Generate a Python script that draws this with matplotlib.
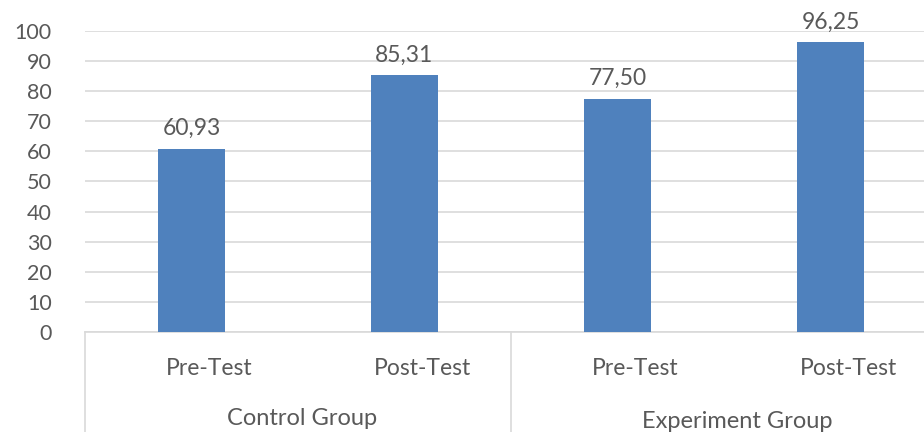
import matplotlib
matplotlib.use("Agg")
import matplotlib.pyplot as plt

groups = ["Control Group", "Experiment Group"]
tests = ["Pre-Test", "Post-Test"]
values = [60.93, 85.31, 77.50, 96.25]
yticks = [0, 10, 20, 30, 40, 50, 60, 70, 80, 90, 100]

plt.rcParams['font.family'] = ['Lato', 'DejaVu Sans']
grey = '#595959'
gridc = '#D9D9D9'

W, H = 924, 432
fig = plt.figure(figsize=(W/100, H/100), dpi=100)
# axes from x=85 to 937 (extends past right edge), y from 332 (0) to 31 (100)
x0, x1 = 85, 937
y0, y1 = 332, 31
ax = fig.add_axes([x0/W, 1 - y0/H, (x1-x0)/W, (y0-y1)/H])
ax.set_xlim(0, 4)
ax.set_ylim(0, 100)

xs = [0.5, 1.5, 2.5, 3.5]
ax.bar(xs, values, width=0.315, color='#4F81BD', zorder=3)
for x, v in zip(xs, values):
    ax.text(x, v + 4.6, f"{v:.2f}".replace('.', ','), ha='center', va='baseline',
            fontsize=16.5, color=grey)

ax.set_yticks(yticks)
ax.set_yticklabels([str(t) for t in yticks], fontsize=15.5, color=grey)
ax.tick_params(axis='y', length=0, pad=24)
ax.yaxis.grid(True, color=gridc, linewidth=1.2, zorder=0)
ax.set_xticks([])
for s in ['top', 'right', 'left']:
    ax.spines[s].set_visible(False)
ax.spines['bottom'].set_color(gridc)
ax.spines['bottom'].set_linewidth(1.2)

def fy(py):
    return (y0 - py) / (y0 - y1)

# category labels
trans = ax.get_xaxis_transform()
for i, x in enumerate(xs):
    ax.text(x + 0.085, fy(375), tests[i % 2], transform=trans,
            ha='center', va='baseline', fontsize=16.5, color=grey, clip_on=False)
group_x = [1.02, 3.06]
group_base = [425, 428]
for g, name in enumerate(groups):
    ax.text(group_x[g], fy(group_base[g]), name, transform=trans,
            ha='center', va='baseline', fontsize=17, color=grey, clip_on=False)
# separators
for xb in [0, 2, 4]:
    ax.plot([xb, xb], [0, -0.35], transform=trans, color=gridc, linewidth=1.2,
            clip_on=False)

fig.savefig("out.png", dpi=100)
